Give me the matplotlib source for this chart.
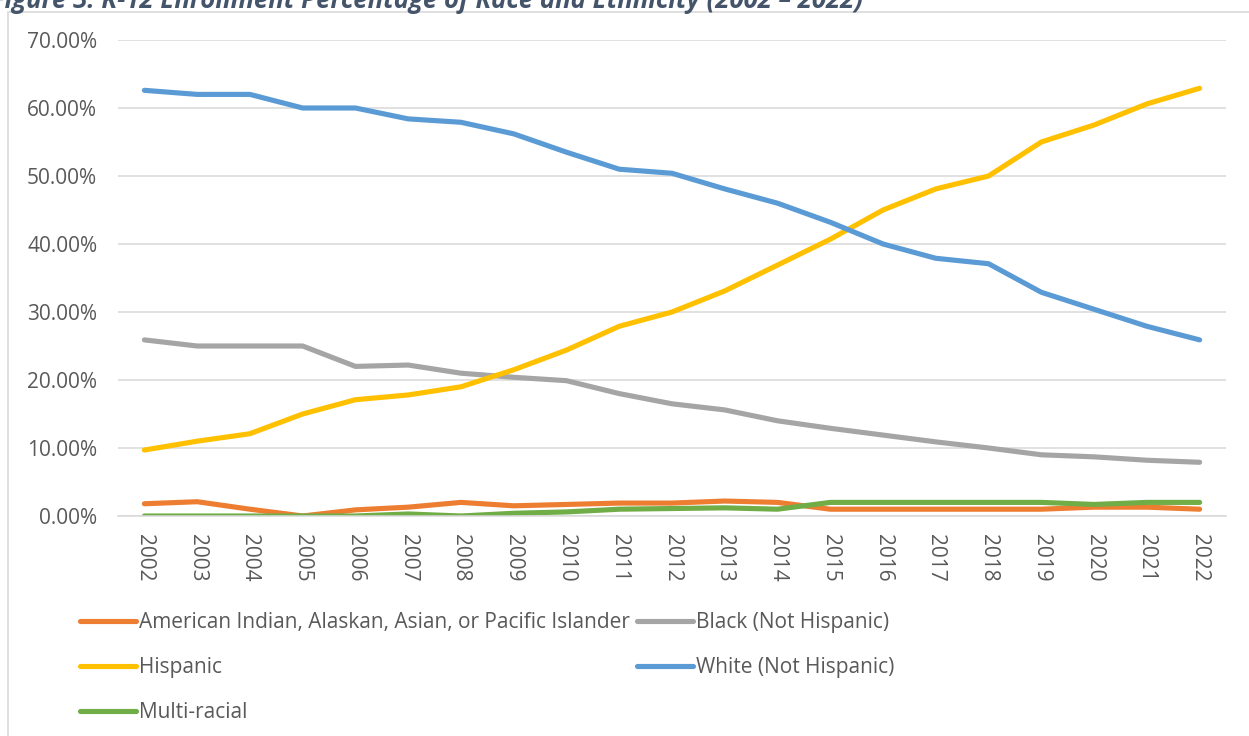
import matplotlib
matplotlib.use("Agg")
import matplotlib.pyplot as plt
from matplotlib.patches import Rectangle
from matplotlib.ticker import FuncFormatter

years = [str(y) for y in range(2002, 2023)]

aian_api = [1.8, 2.1, 1.0, 0.0, 0.9, 1.3, 2.0, 1.5, 1.7, 1.9, 1.9, 2.2, 2.0,
            1.0, 1.0, 1.0, 1.0, 1.0, 1.3, 1.3, 1.0]
black = [25.9, 25.0, 25.0, 25.0, 22.0, 22.2, 21.0, 20.4, 19.9, 18.0, 16.5, 15.6,
         14.0, 12.9, 11.9, 10.9, 10.0, 9.0, 8.7, 8.2, 7.9]
hispanic = [9.7, 11.0, 12.1, 15.0, 17.1, 17.8, 19.0, 21.5, 24.4, 27.9, 30.0, 33.1,
            36.9, 40.7, 45.0, 48.1, 50.0, 55.0, 57.5, 60.6, 62.9]
white = [62.6, 62.0, 62.0, 60.0, 60.0, 58.4, 57.9, 56.2, 53.5, 51.0, 50.4, 48.1,
         46.0, 43.2, 40.0, 37.9, 37.1, 32.9, 30.4, 27.9, 25.9]
multi = [0.0, 0.0, 0.0, 0.0, 0.0, 0.3, 0.0, 0.4, 0.6, 1.0, 1.1, 1.2, 1.0,
         2.0, 2.0, 2.0, 2.0, 2.0, 1.7, 2.0, 2.0]

series = [
    ("American Indian, Alaskan, Asian, or Pacific Islander", aian_api, "#ED7D31"),
    ("Black (Not Hispanic)", black, "#A5A5A5"),
    ("Hispanic", hispanic, "#FFC000"),
    ("White (Not Hispanic)", white, "#5B9BD5"),
    ("Multi-racial", multi, "#70AD47"),
]

title = "Figure 3. K-12 Enrollment Percentage of Race and Ethnicity (2002 \u2013 2022)"

FONT = "Open Sans"
TXT = "#595959"
GRID = "#D9D9D9"
FS = 15

W, H = 1249, 736
fig = plt.figure(figsize=(W / 100, H / 100), dpi=100)

# chart frame
fig.patches.append(Rectangle((8 / W, -0.05), 1.2, 1 - 12 / H + 0.05,
                             transform=fig.transFigure, fill=False,
                             edgecolor=GRID, lw=1.2))

fig.text(863 / W, 1 - 8 / H, title, ha="right", va="baseline",
         fontsize=18.5, fontstyle="italic", fontweight="bold",
         color="#44546A", family=FONT)

ax = fig.add_axes([118 / W, 1 - 516 / H, (1226 - 118) / W, (516 - 40) / H])
x = list(range(len(years)))
handles = {}
for name, vals, col in series:
    ln, = ax.plot(x, [v / 100 for v in vals], color=col, lw=3.7,
                  solid_capstyle="round", solid_joinstyle="round", label=name)
    handles[name] = ln

ax.set_xlim(-0.5, len(years) - 0.5)
ax.set_ylim(0, 0.70)
ax.set_yticks([i / 100 for i in range(0, 71, 10)])
ax.yaxis.set_major_formatter(FuncFormatter(lambda v, p: f"{v * 100:.2f}%"))
ax.set_xticks(x)
ax.set_xticklabels(years, rotation=-90)
ax.grid(axis="y", color=GRID, lw=1.1)
ax.set_axisbelow(True)
for s in ["top", "right", "left"]:
    ax.spines[s].set_visible(False)
ax.spines["bottom"].set_color(GRID)
ax.spines["bottom"].set_linewidth(1.1)
ax.tick_params(axis="both", length=0, labelsize=FS, labelcolor=TXT)
ax.tick_params(axis="y", pad=15)
ax.tick_params(axis="x", pad=13)
for lab in ax.get_xticklabels() + ax.get_yticklabels():
    lab.set_family(FONT)

order = ["American Indian, Alaskan, Asian, or Pacific Islander", "Hispanic",
         "Multi-racial", "Black (Not Hispanic)", "White (Not Hispanic)"]
leg = fig.legend([handles[n] for n in order], order, ncol=2,
                 loc="upper left", bbox_to_anchor=(80 / W, 1 - 612 / H),
                 frameon=False, prop={"family": FONT, "size": FS},
                 handlelength=2.7, handletextpad=0.15, columnspacing=0.3,
                 labelspacing=1.16, borderaxespad=0, borderpad=0)
for t in leg.get_texts():
    t.set_color(TXT)

fig.savefig("out.png", dpi=100, facecolor="white")
